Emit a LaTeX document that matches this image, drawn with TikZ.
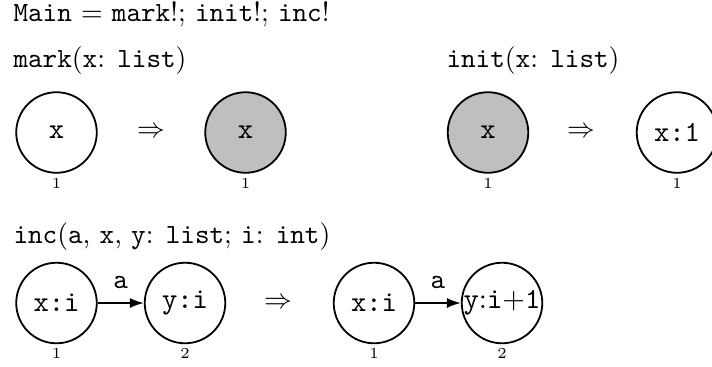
\documentclass[tikz,border=0pt]{standalone}
\usetikzlibrary{arrows.meta}
\begin{document}
\begin{tikzpicture}[x=0.36pt,y=-0.36pt,
  st/.style={circle,draw,line width=0.65pt,minimum size=29pt,inner sep=0pt,font=\fontsize{10.5}{12}\ttfamily},
  gr/.style={st,fill=black!25},
  lab/.style={font=\fontsize{5.5}{6}\selectfont,inner sep=0pt},
  ttl/.style={anchor=base west,inner sep=0pt},
  impl/.style={inner sep=0pt},
  edge/.style={-{Latex[length=5pt,width=3.6pt]},line width=0.6pt}]
\useasboundingbox (0,0) rectangle (712,366);
% headings
\node[ttl] (title) at (13,21) {\texttt{Main} $=$ \texttt{mark}!; \texttt{init}!; \texttt{inc}!};
\node[ttl] (hmark) at (13,67) {\texttt{mark}(\texttt{x}: \texttt{list})};
\node[ttl] (hinit) at (446,67) {\texttt{init}(\texttt{x}: \texttt{list})};
\node[ttl] (hinc) at (13,243) {\texttt{inc}(\texttt{a}, \texttt{x}, \texttt{y}: \texttt{list}; \texttt{i}: \texttt{int})};
% mark rule
\node[st] (m1) at (56.5,132.5) {x};
\node[impl] (r1) at (151,132.5) {$\Rightarrow$};
\node[gr] (m2) at (245.5,132.5) {x};
\node[lab] (m1n) at (56.5,183) {1};
\node[lab] (m2n) at (245.5,183) {1};
% init rule
\node[gr] (i1) at (488,132.5) {x};
\node[impl] (r2) at (581,132.5) {$\Rightarrow$};
\node[st] (i2) at (677,132.5) {x:1};
\node[lab] (i1n) at (488,183) {1};
\node[lab] (i2n) at (677,183) {1};
% inc rule
\node[st] (c1) at (56.5,303) {x:i};
\node[st] (c2) at (185,303) {y:i};
\node[impl] (r3) at (278,303) {$\Rightarrow$};
\node[st] (c3) at (374,303) {x:i};
\node[st] (c4) at (502,303) {y\textrm{:}i\textrm{+}1};
\node[lab] (c1n) at (56.5,353) {1};
\node[lab] (c2n) at (185,353) {2};
\node[lab] (c3n) at (374,353) {1};
\node[lab] (c4n) at (502,353) {2};
\draw[edge] (c1) -- node[above=1.5pt,font=\ttfamily] (e1) {a} (c2);
\draw[edge] (c3) -- node[above=1.5pt,font=\ttfamily] (e2) {a} (c4);
\end{tikzpicture}
\end{document}
